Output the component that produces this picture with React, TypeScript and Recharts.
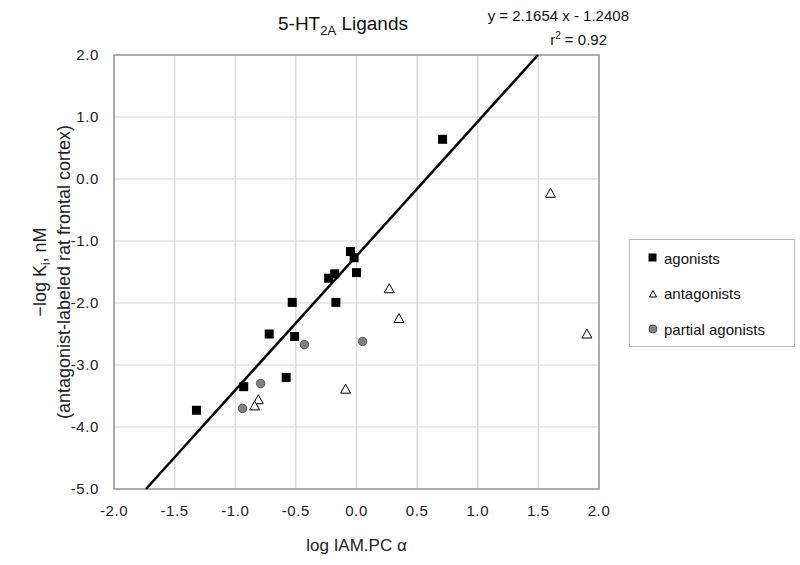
import React from "react";
import {
  CartesianGrid,
  Customized,
  ReferenceArea,
  ReferenceLine,
  Scatter,
  ScatterChart,
  XAxis,
  YAxis,
} from "recharts";

const agonistsX = [-1.32, -0.93, -0.72, -0.58, -0.53, -0.51, -0.23, -0.18, -0.17, -0.05, -0.02, 0.0, 0.71];
const agonistsY = [-3.73, -3.35, -2.5, -3.2, -1.99, -2.54, -1.6, -1.53, -1.99, -1.17, -1.27, -1.51, 0.64];

const antagonistsX = [-0.81, -0.84, -0.09, 0.27, 0.35, 1.6, 1.9];
const antagonistsY = [-3.56, -3.66, -3.39, -1.77, -2.25, -0.23, -2.5];

const partialX = [-0.94, -0.79, -0.43, 0.05];
const partialY = [-3.7, -3.3, -2.67, -2.62];

const xTicks = [-2.0, -1.5, -1.0, -0.5, 0.0, 0.5, 1.0, 1.5, 2.0];
const yTicks = [2.0, 1.0, 0.0, -1.0, -2.0, -3.0, -4.0, -5.0];

// linear fit reported on the chart
const slope = 2.1654;
const intercept = -1.2408;

const FONT = "'Liberation Sans', Arial, sans-serif";

const toPoints = (xs: number[], ys: number[]) => xs.map((x, i) => ({ x, y: ys[i] }));

const Square = (props: any) => {
  const { cx, cy } = props;
  return <rect x={cx - 4.5} y={cy - 4.5} width={9} height={9} fill="#000" />;
};

const Triangle = (props: any) => {
  const { cx, cy } = props;
  return (
    <path
      d={`M${cx},${cy - 5} L${cx + 5},${cy + 4} L${cx - 5},${cy + 4} Z`}
      fill="#fff"
      stroke="#000"
      strokeWidth={1}
    />
  );
};

const Circle = (props: any) => {
  const { cx, cy } = props;
  return <circle cx={cx} cy={cy} r={4.3} fill="#808080" stroke="#444" strokeWidth={0.8} />;
};

const legendItems = [
  { label: "agonists", kind: "square" },
  { label: "antagonists", kind: "triangle" },
  { label: "partial agonists", kind: "circle" },
];

const LegendBox = () => (
  <div
    style={{
      position: "absolute",
      left: 629,
      top: 239,
      width: 164,
      height: 106,
      border: "1px solid #bbb",
      fontFamily: FONT,
      fontSize: 15,
      color: "#111",
    }}
  >
    {legendItems.map((it, i) => (
      <div
        key={it.label}
        style={{ position: "absolute", left: 17, top: 7 + i * 35.5, height: 22, display: "flex", alignItems: "center" }}
      >
        <svg width={12} height={12} style={{ marginRight: 5 }}>
          {it.kind === "square" && <rect x={1.5} y={1.5} width={8} height={8} fill="#000" />}
          {it.kind === "triangle" && <path d="M6,2.5 L9.5,9 L2.5,9 Z" fill="#fff" stroke="#000" strokeWidth={1} />}
          {it.kind === "circle" && <circle cx={6} cy={6} r={4} fill="#808080" stroke="#444" strokeWidth={0.8} />}
        </svg>
        <span>{it.label}</span>
      </div>
    ))}
  </div>
);

const Annotations = () => (
  <g fontFamily={FONT} fill="#111">
    <text x={343} y={30} textAnchor="middle" fontSize={19}>
      5-HT
      <tspan fontSize={13} dy={5}>2A</tspan>
      <tspan dy={-5}> Ligands</tspan>
    </text>
    <text x={629} y={21} textAnchor="end" fontSize={15}>
      y = 2.1654 x - 1.2408
    </text>
    <text x={607} y={45} textAnchor="end" fontSize={15}>
      r<tspan fontSize={10} dy={-6}>2</tspan>
      <tspan dy={6}> = 0.92</tspan>
    </text>
  </g>
);

const YLabel = () => (
  <g fontFamily={FONT} fill="#222" fontSize={18}>
    <text x={46} y={272} textAnchor="middle" transform="rotate(-90 46 272)">
      −log K<tspan fontSize={12} dy={4}>i</tspan>
      <tspan dy={-4}>, nM</tspan>
    </text>
    <text x={70} y={272} textAnchor="middle" transform="rotate(-90 70 272)">
      (antagonist-labeled rat frontal cortex)
    </text>
  </g>
);

const tickStyle = { fontSize: 15, fill: "#222", letterSpacing: 0.6 };

const fmt = (v: number) => (v < 0 ? "-" + Math.abs(v).toFixed(1) : v.toFixed(1));

export default function App() {
  const agonists = toPoints(agonistsX, agonistsY);
  const antagonists = toPoints(antagonistsX, antagonistsY);
  const partial = toPoints(partialX, partialY);
  const lineStart = { x: (-5 - intercept) / slope, y: -5 };
  const lineEnd = { x: (2 - intercept) / slope, y: 2 };

  return (
    <div style={{ position: "absolute", left: 0, top: 0, width: 800, height: 565, background: "#fff" }}>
      <ScatterChart
        width={800}
        height={565}
        margin={{ top: 55, right: 201, bottom: 0, left: 0 }}
        style={{ fontFamily: FONT }}
      >
        <CartesianGrid stroke="#d4d4d4" strokeWidth={1.2} />
        <XAxis
          type="number"
          dataKey="x"
          domain={[-2, 2]}
          ticks={xTicks}
          tickFormatter={fmt}
          tickLine={false}
          axisLine={false}
          tickMargin={10}
          height={76}
          tick={tickStyle}
          allowDataOverflow
          label={{
            value: "log IAM.PC α",
            position: "insideBottom",
            offset: 14,
            style: { fontSize: 17, fill: "#222" },
          }}
        />
        <YAxis
          type="number"
          dataKey="y"
          domain={[-5, 2]}
          ticks={yTicks}
          tickFormatter={fmt}
          tickLine={false}
          axisLine={false}
          tickMargin={9}
          width={114}
          tick={tickStyle}
          allowDataOverflow
        />
        <ReferenceArea x1={-2} x2={2} y1={-5} y2={2} fill="none" stroke="#999" strokeWidth={1.5} />
        <ReferenceLine segment={[lineStart, lineEnd]} stroke="#000" strokeWidth={2.5} />
        <Scatter name="agonists" data={agonists} shape={Square} isAnimationActive={false} />
        <Scatter name="antagonists" data={antagonists} shape={Triangle} isAnimationActive={false} />
        <Scatter name="partial agonists" data={partial} shape={Circle} isAnimationActive={false} />
        <Customized component={Annotations} />
        <Customized component={YLabel} />
      </ScatterChart>
      <LegendBox />
    </div>
  );
}
